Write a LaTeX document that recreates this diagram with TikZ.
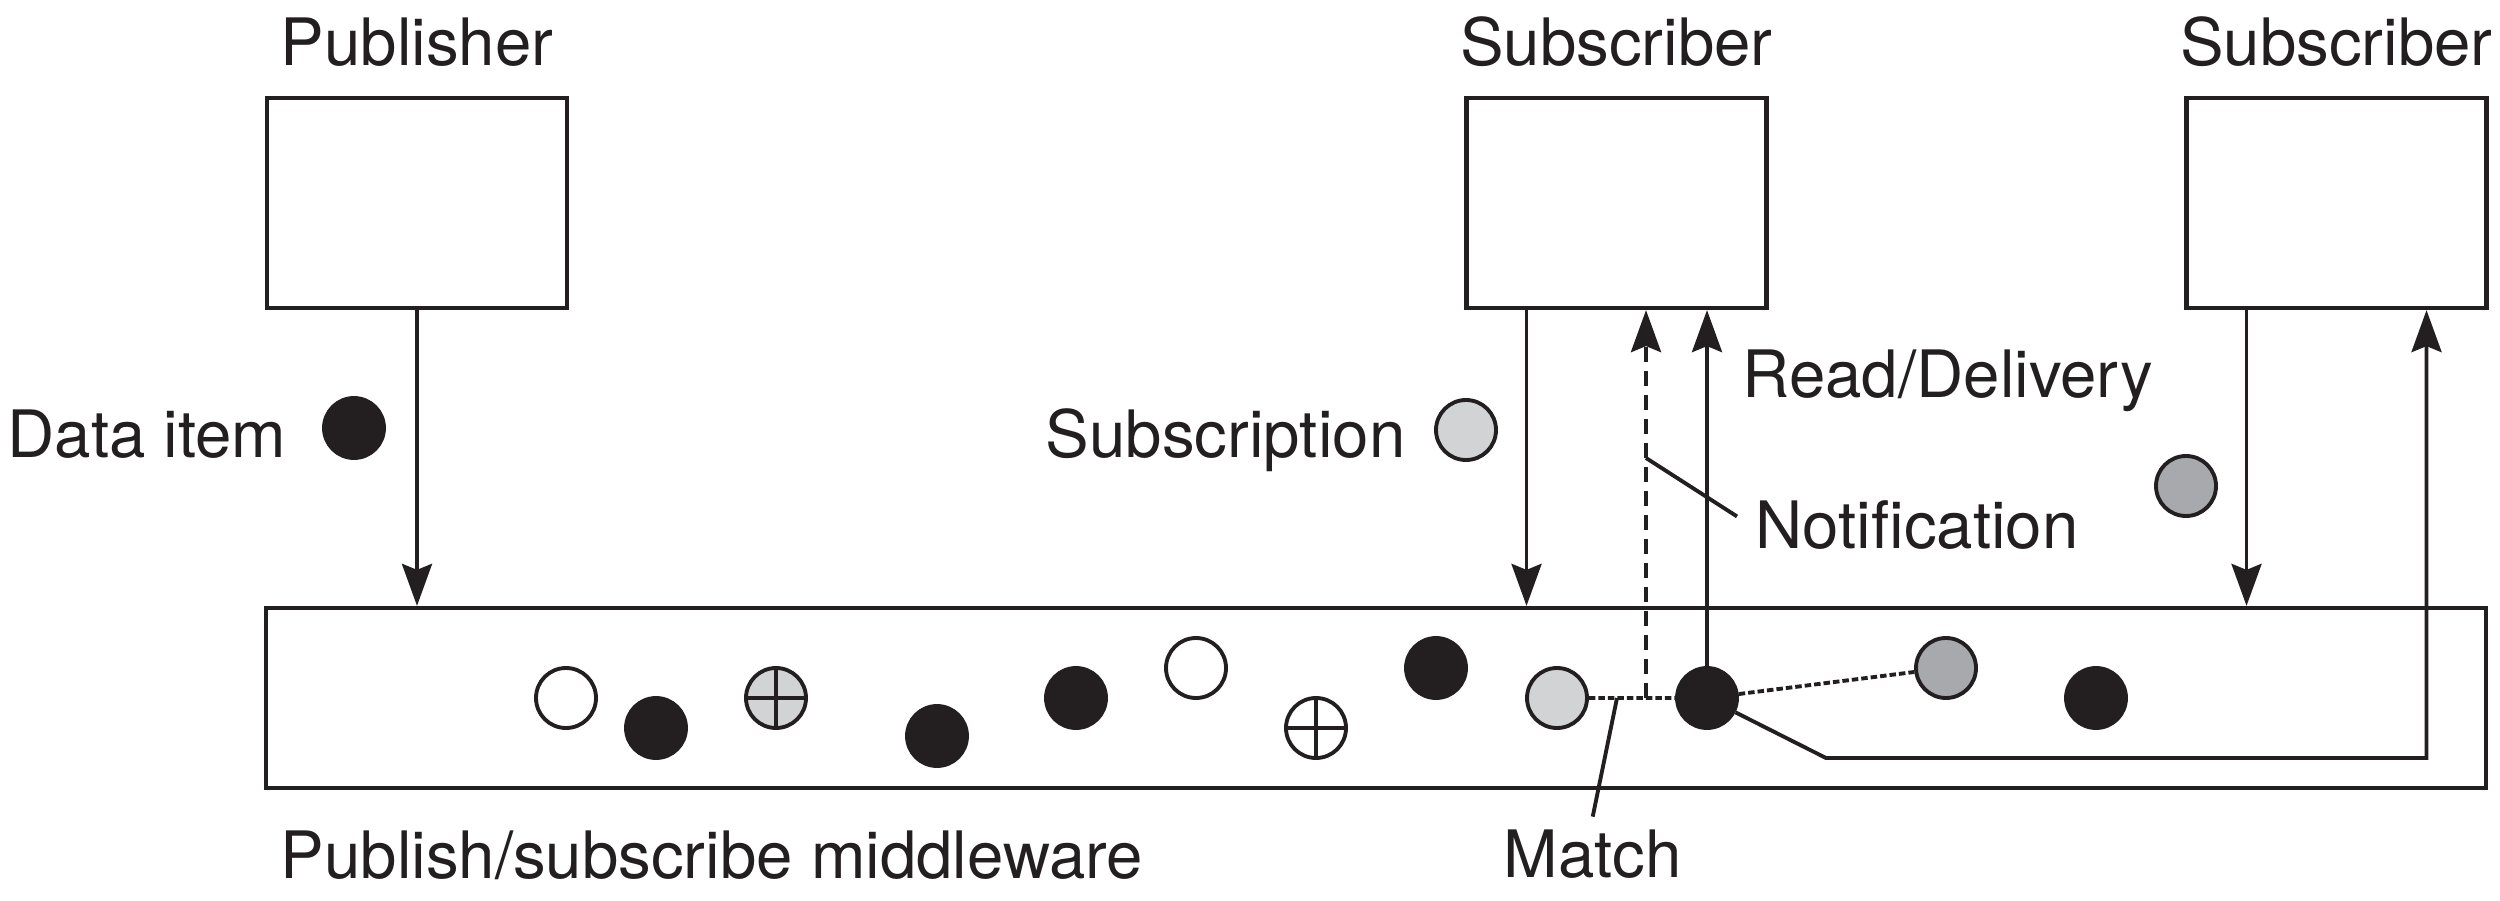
\documentclass[tikz,border=0pt]{standalone}
\usepackage{fontspec}
\setmainfont{TeX Gyre Heros}
\usetikzlibrary{arrows.meta,positioning}
\definecolor{nero}{HTML}{231F20}
\definecolor{grigioC}{HTML}{D1D3D4}
\definecolor{grigioS}{HTML}{A7A9AC}

\begin{document}
\begin{tikzpicture}[x=10mm,y=10mm,font=\fontsize{18.6}{22}\selectfont,
  scatola/.style={draw=nero,line width=1.2pt,minimum width=30mm,minimum height=21mm,inner sep=0pt},
  pallino/.style={circle,draw=nero,line width=1.1pt,minimum size=6mm,inner sep=0pt},
  croce/.style={pallino,path picture={\draw[nero,line width=1.1pt] (path picture bounding box.north) -- (path picture bounding box.south) (path picture bounding box.west) -- (path picture bounding box.east);}},
  testo/.style={inner sep=0pt,text=nero},
  filo/.style={draw=nero,line width=1.1pt},
  freccia/.style={filo,-{Stealth[length=4.2mm,width=3mm,inset=0.6mm]}},
  puntini/.style={filo,dash pattern=on 0.65mm off 0.3mm}]

\useasboundingbox (0,0) rectangle (25,9);

\node[scatola] (pub) at (4.17,6.97) {};
\node[scatola] (subA) at (16.165,6.97) {};
\node[scatola] (subB) at (23.365,6.97) {};
\node[scatola,minimum width=222mm,minimum height=18mm] (mw) at (13.76,2.02) {};

\node[testo,anchor=base] (tPub) at ([yshift=3mm]pub.north) {Publisher};
\node[testo,anchor=base] (tSubA) at ([yshift=3mm]subA.north) {Subscriber};
\node[testo,anchor=base] (tSubB) at ([yshift=3mm]subB.north) {Subscriber};
\node[testo,anchor=base west] (tMw) at (2.80,.22) {Publish/subscribe middleware};
\node[testo,anchor=base west] (tMatch) at (15.03,.23) {Match};
\node[testo,anchor=base west] (tRead) at (17.42,5.03) {Read/Delivery};
\node[testo,anchor=base west] (tNotif) at (17.55,3.52) {Notification};

% fuori dal middleware
\node[pallino,fill=nero] (dato) at (3.54,4.72) {};
\node[testo,anchor=base east] (tDato) at (2.87,4.43) {Data item};
\node[pallino,fill=grigioC] (abbA) at (14.66,4.70) {};
\node[testo,anchor=base east] (tAbb) at (14.06,4.43) {Subscription};
\node[pallino,fill=grigioS] (abbB) at (21.86,4.14) {};

% dentro il middleware
\node[pallino] (p1) at (5.66,2.02) {};
\node[pallino,fill=nero] (p2) at (6.56,1.72) {};
\node[croce,fill=grigioC] (p3) at (7.76,2.02) {};
\node[pallino,fill=nero] (p4) at (9.37,1.64) {};
\node[pallino,fill=nero] (p5) at (10.76,2.02) {};
\node[pallino] (p6) at (11.96,2.32) {};
\node[croce] (p7) at (13.16,1.72) {};
\node[pallino,fill=nero] (p8) at (14.36,2.32) {};
\node[pallino,fill=grigioC] (p9) at (15.57,2.02) {};
\node[pallino,fill=nero] (p10) at (17.07,2.02) {};
\node[pallino,fill=grigioS] (p11) at (19.46,2.32) {};
\node[pallino,fill=nero] (p12) at (20.96,2.02) {};

\coordinate (notifica) at (16.46,2.02);
\coordinate (match) at (16.17,2.02);
\coordinate (leva) at (16.46,4.42);
\coordinate (gomito) at (18.26,1.42);

\draw[freccia] (pub) -- (pub |- mw.north);
\draw[freccia] ([xshift=-9mm]subA.south) -- ([xshift=-9mm]subA.south |- mw.north);
\draw[freccia] ([xshift=-9mm]subB.south) -- ([xshift=-9mm]subB.south |- mw.north);
\draw[freccia,dash pattern=on 1.5mm off .9mm] (notifica) -- (notifica |- subA.south);
\draw[freccia] (p10) -- (p10 |- subA.south);
\draw[freccia] (p10) -- (gomito) -| ([xshift=9mm]subB.south);
\draw[puntini] (p9) -- (p10) -- (p11);
\draw[filo] (match) -- ([yshift=1.2mm]tMatch.north);
\draw[filo] (leva) -- ([shift={(-1.8mm,-1.7mm)}]tNotif.north west);

\end{tikzpicture}
\end{document}
